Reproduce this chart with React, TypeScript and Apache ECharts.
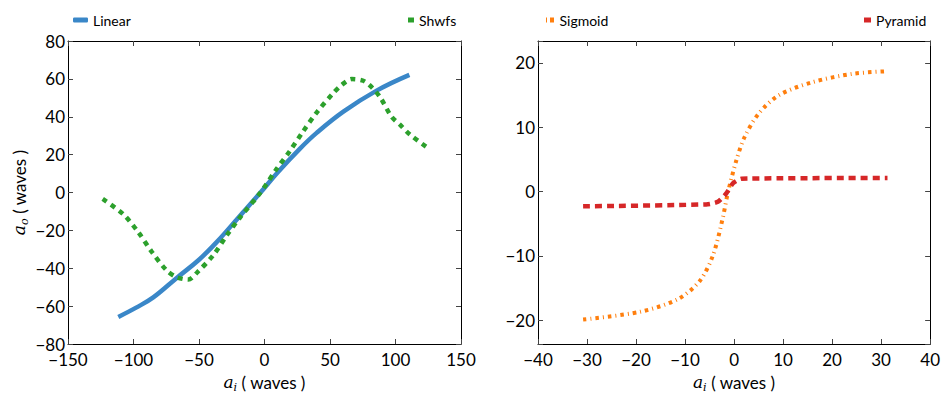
import React, { useEffect, useRef } from 'react';
import * as echarts from 'echarts';

// Left panel
const linearPoints: [number, number][] = [
  [-111.6, -65.7], [-98, -60.8], [-84.9, -55.4], [-67, -45.1], [-50, -35.5],
  [-36.5, -26.2], [-20, -13.3], [-3.4, -0.3], [10, 10.6], [27.1, 23.2],
  [39.8, 31.5], [60.2, 42.7], [85.6, 53.8], [110.6, 62.1],
];
const shwfsPoints: [number, number][] = [
  [-123.5, -3.4], [-107.8, -11.5], [-96.3, -21], [-86.1, -31.3], [-74.7, -41.1],
  [-67, -44.7], [-58.2, -46], [-51.8, -42.5], [-39, -33], [-28.9, -22.7],
  [-18.7, -13.2], [-3.4, -0.3], [9.3, 12.5], [19.5, 22], [29.2, 32],
  [39.8, 42.2], [52, 52.1], [58.9, 56.8], [66.6, 59.9], [75.4, 59],
  [81.8, 55.6], [88.2, 50.4], [97, 40], [103.4, 35.8], [111, 30.6], [125, 23.4],
];
// Right panel
const sigmoidPoints: [number, number][] = [
  [-30.8, -19.9], [-19.2, -18.7], [-11.4, -16.7], [-7, -13.9], [-4.3, -9.9],
  [-2.3, -4.1], [-1.3, -0.3], [0.45, 4.8], [2.1, 8.4], [5.1, 12.2],
  [9.2, 15], [16, 17], [24.2, 18.3], [31.3, 18.7],
];
const pyramidPoints: [number, number][] = [
  [-30.8, -2.3], [-5.7, -2.0], [-3.3, -1.6], [-1.6, -0.3], [-0.2, 1.3],
  [1.5, 2.0], [31.3, 2.1],
];

const leftX = { min: -150, max: 150, interval: 50 };
const leftY = { min: -80, max: 80, interval: 20 };
const rightX = { min: -40, max: 40, interval: 10 };
const rightY = { min: -23.7, max: 23.4 };

const FONT = 'Lato';
const C_BLUE = '#3a87c8';
const C_GREEN = '#2ca02c';
const C_ORANGE = '#ff7f0e';
const C_RED = '#d62728';

const nameRich = {
  a: { fontFamily: 'DejaVu Serif', fontStyle: 'italic', fontSize: 17, lineHeight: 22, color: '#000' },
  s: { fontFamily: 'DejaVu Serif', fontStyle: 'italic', fontSize: 11, lineHeight: 12, verticalAlign: 'bottom', color: '#000' },
  t: { fontFamily: FONT, fontSize: 17, lineHeight: 22, color: '#000' },
};

function axisBase(showLabel: boolean) {
  return {
    type: 'value',
    axisLine: { show: true, onZero: false, lineStyle: { color: '#000', width: 1 } },
    axisTick: { show: true, inside: true, length: 5, lineStyle: { color: '#444' } },
    splitLine: { show: false },
    axisLabel: { show: showLabel, color: '#000', fontFamily: FONT, fontSize: 17 },
  };
}

export default function App() {
  const ref = useRef<HTMLDivElement>(null);
  useEffect(() => {
    document.body.style.margin = '0';
    const chart = echarts.init(ref.current!, null, { renderer: 'svg' });
    const xName = '{a|a}{s|i}{t| ( waves )}';
    const option: any = {
      animation: false,
      backgroundColor: '#fff',
      grid: [
        { left: 68, right: 482, top: 41, bottom: 47 },
        { left: 538, right: 12, top: 41, bottom: 47 },
      ],
      legend: [
        { left: 68, top: 8, data: [{ name: 'Linear', icon: 'roundRect' }], itemWidth: 15, itemHeight: 5, textStyle: { fontFamily: FONT, fontSize: 14, color: '#000' } },
        { left: 403, top: 8, data: [{ name: 'Shwfs', icon: 'rect' }], itemWidth: 6, itemHeight: 5, textStyle: { fontFamily: FONT, fontSize: 14, color: '#000' } },
        { left: 541, top: 8, data: [{ name: 'Sigmoid', icon: 'path://M0,0h1v5h-1z M4,0h4v5h-4z' }], itemWidth: 9, itemHeight: 5, textStyle: { fontFamily: FONT, fontSize: 14, color: '#000' } },
        { left: 859, top: 8, data: [{ name: 'Pyramid', icon: 'rect' }], itemWidth: 7, itemHeight: 5, textStyle: { fontFamily: FONT, fontSize: 14, color: '#000' } },
      ],
      xAxis: [
        {
          ...axisBase(true), gridIndex: 0, position: 'bottom', ...leftX,
          axisLabel: { ...axisBase(true).axisLabel, margin: 7 },
          name: xName, nameLocation: 'middle', nameGap: 27, nameTextStyle: { rich: nameRich },
        },
        { ...axisBase(false), gridIndex: 0, position: 'top', ...leftX },
        {
          ...axisBase(true), gridIndex: 1, position: 'bottom', ...rightX,
          axisLabel: { ...axisBase(true).axisLabel, margin: 7 },
          name: xName, nameLocation: 'middle', nameGap: 27, nameTextStyle: { rich: nameRich },
        },
        { ...axisBase(false), gridIndex: 1, position: 'top', ...rightX },
      ],
      yAxis: [
        {
          ...axisBase(true), gridIndex: 0, position: 'left', ...leftY,
          axisLabel: { ...axisBase(true).axisLabel, margin: 3 },
          name: '{a|a}{s|o}{t| ( waves )}', nameLocation: 'middle', nameGap: 38, nameTextStyle: { rich: nameRich },
        },
        { ...axisBase(false), gridIndex: 0, position: 'right', ...leftY },
        {
          ...axisBase(true), gridIndex: 1, position: 'left', ...rightY, splitNumber: 5,
          axisLabel: {
            ...axisBase(true).axisLabel, margin: 3,
            formatter: (v: number) => (Math.abs(v % 10) < 1e-6 ? String(v).replace('-', '\u2212') : ''),
          },
        },
        { ...axisBase(false), gridIndex: 1, position: 'right', ...rightY, splitNumber: 5 },
      ],
      series: [
        {
          name: 'Linear', type: 'line', xAxisIndex: 0, yAxisIndex: 0, data: linearPoints,
          showSymbol: false, smooth: 0.4, color: C_BLUE,
          lineStyle: { color: C_BLUE, width: 4.5 },
        },
        {
          name: 'Shwfs', type: 'line', xAxisIndex: 0, yAxisIndex: 0, data: shwfsPoints,
          showSymbol: false, smooth: 0.3, color: C_GREEN,
          lineStyle: { color: C_GREEN, width: 4.5, type: [5, 5] },
        },
        {
          name: 'Sigmoid', type: 'line', xAxisIndex: 2, yAxisIndex: 2, data: sigmoidPoints,
          showSymbol: false, smooth: 0.3, color: C_ORANGE,
          lineStyle: { color: C_ORANGE, width: 4, type: [3.5, 4, 1, 4] },
        },
        {
          name: 'Pyramid', type: 'line', xAxisIndex: 2, yAxisIndex: 2, data: pyramidPoints,
          showSymbol: false, smooth: 0.2, color: C_RED,
          lineStyle: { color: C_RED, width: 4.5, type: [7, 5] },
        },
      ],
    };
    const minus = (v: number) => String(v).replace('-', '\u2212');
    option.xAxis[0].axisLabel.formatter = minus;
    option.xAxis[2].axisLabel.formatter = minus;
    option.yAxis[0].axisLabel.formatter = minus;
    chart.setOption(option);
    return () => chart.dispose();
  }, []);
  return <div ref={ref} style={{ width: 943, height: 398 }} />;
}
